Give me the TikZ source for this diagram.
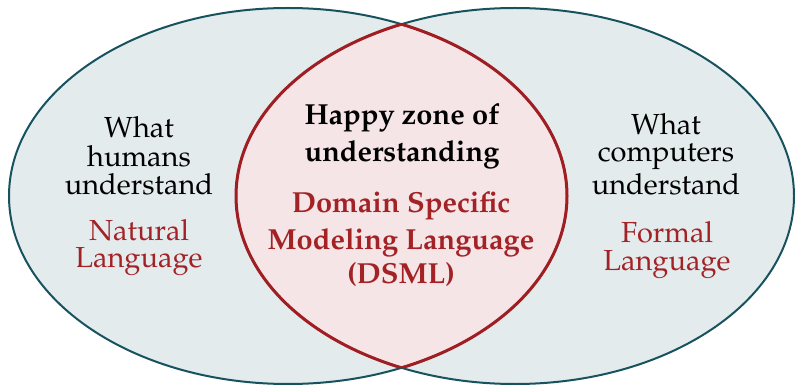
\documentclass[tikz,border=0pt]{standalone}
\usepackage[T1]{fontenc}
\renewcommand{\rmdefault}{ppl}
\definecolor{ringblue}{HTML}{17535F}
\definecolor{paleblue}{HTML}{E3EBED}
\definecolor{lensred}{HTML}{A01E22}
\definecolor{palerose}{HTML}{F5E5E7}
\definecolor{textred}{HTML}{A32226}
\tikzset{
  plain/.style={anchor=base, inner sep=0pt, font=\fontsize{29}{29}\selectfont},
  strong/.style={anchor=base, inner sep=0pt, font=\fontsize{29}{29}\selectfont\bfseries},
}
\begin{document}
\begin{tikzpicture}[x=1pt,y=1pt]
\useasboundingbox (0,0) rectangle (795,386);
% the two sets
\def\leftset{(288,190) ellipse [x radius=279, y radius=188]}
\def\rightset{(515,190) ellipse [x radius=279, y radius=188]}
\fill[paleblue] \leftset;
\fill[paleblue] \rightset;
\begin{scope}
  \clip \leftset;
  \fill[palerose] \rightset;
\end{scope}
\draw[ringblue, line width=2pt] \leftset;
\draw[ringblue, line width=2pt] \rightset;
% red outline of the overlap
\begin{scope}
  \clip \leftset;
  \draw[lensred, line width=3pt] \rightset;
\end{scope}
\begin{scope}
  \clip \rightset;
  \draw[lensred, line width=3pt] \leftset;
\end{scope}
% left set
\node[plain] (lw) at (139,248) {What};
\node[plain] (lh) at (139,219) {humans};
\node[plain] (lu) at (139,191) {understand};
\node[plain, text=textred] (ln) at (139,146) {Natural};
\node[plain, text=textred] (ll) at (139,119) {Language};
% overlap
\node[strong] (hz) at (402,261) {Happy zone of};
\node[strong] (hu) at (402,224) {understanding};
\node[strong, text=textred] (dd) at (401,173) {Domain Specific};
\node[strong, text=textred] (dm) at (401,136) {Modeling Language};
\node[strong, text=textred] (ds) at (401,103) {(DSML)};
% right set
\node[plain] (rw) at (666,251) {What};
\node[plain] (rc) at (666,224) {computers};
\node[plain] (ru) at (666,191) {understand};
\node[plain, text=textred] (rf) at (667,144) {Formal};
\node[plain, text=textred] (rl) at (667,116) {Language};
\end{tikzpicture}
\end{document}
